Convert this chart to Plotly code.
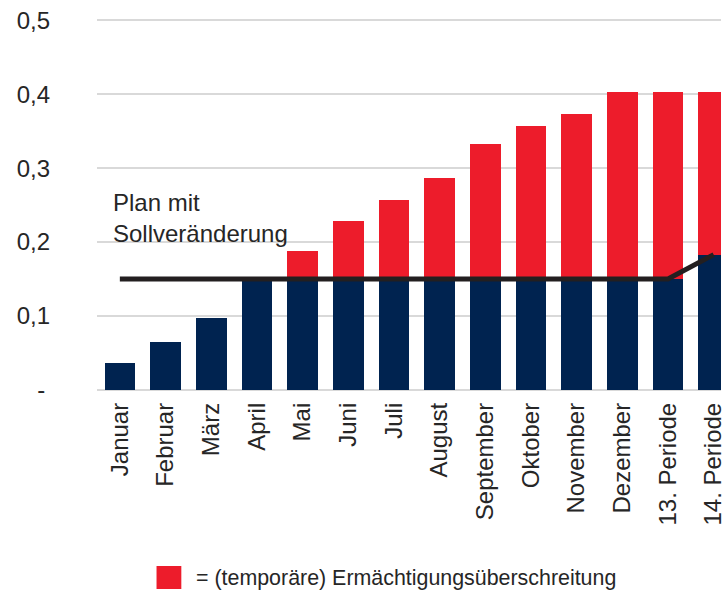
import plotly.graph_objects as go

categories = ["Januar", "Februar", "März", "April", "Mai", "Juni", "Juli", "August",
              "September", "Oktober", "November", "Dezember", "13. Periode", "14. Periode"]
actual = [0.036, 0.065, 0.097, 0.148, 0.188, 0.228, 0.257, 0.286,
          0.333, 0.357, 0.373, 0.403, 0.403, 0.403]
plan = [0.15, 0.15, 0.15, 0.15, 0.15, 0.15, 0.15, 0.15,
        0.15, 0.15, 0.15, 0.15, 0.15, 0.183]
y_tickvals = [0, 0.1, 0.2, 0.3, 0.4, 0.5]
y_ticktext = ["-\u2009", "0,1", "0,2", "0,3", "0,4", "0,5"]

base = [min(a, p) for a, p in zip(actual, plan)]
excess = [max(a - p, 0) for a, p in zip(actual, plan)]

NAVY = "#002350"
RED = "#ED1C2B"
FONT = "Liberation Sans, Arial, sans-serif"
TXT = "#262626"

# plot area in pixels: x 97..726, y 18..390
PL, PR, PT, PB = 97, 726, 18, 390


def px(x):
    return (x - PL) / (PR - PL)


def py(y):
    return (PB - y) / (PB - PT)


fig = go.Figure()
fig.add_trace(go.Bar(x=categories, y=base, marker=dict(color=NAVY, line=dict(width=0)),
                     showlegend=False, hoverinfo="skip"))
fig.add_trace(go.Bar(x=categories, y=excess, marker=dict(color=RED, line=dict(width=0)),
                     name="= (temporäre) Ermächtigungsüberschreitung", showlegend=False))
fig.add_trace(go.Scatter(x=categories, y=plan, mode="lines",
                         line=dict(color="#231F20", width=5),
                         showlegend=False, name="Plan mit Sollveränderung"))

fig.update_layout(
    width=726, height=591,
    margin=dict(l=PL, r=0, t=PT, b=591 - PB),
    barmode="stack", bargap=0.33,
    plot_bgcolor="white", paper_bgcolor="white",
    font=dict(family=FONT, size=24, color=TXT),
    xaxis=dict(type="category", range=[-0.5, 13.16], tickangle=-90,
               showgrid=False, zeroline=False, showline=False, ticks="",
               tickfont=dict(size=24, color=TXT), ticklabelstandoff=7),
    yaxis=dict(range=[0, 0.503], tickvals=y_tickvals, ticktext=y_ticktext,
               showgrid=True, gridcolor="#D9D9D9", gridwidth=2,
               zeroline=True, zerolinecolor="#D9D9D9", zerolinewidth=2,
               showline=False, ticks="",
               tickfont=dict(size=24, color=TXT), ticklabelstandoff=46),
    annotations=[
        dict(x=-0.19, y=0.232, xref="x", yref="y", xanchor="left", yanchor="middle",
             text="Plan mit<br>Sollveränderung", showarrow=False, align="left",
             font=dict(size=24, color=TXT, family=FONT)),
        dict(x=px(195), y=py(578), xref="paper", yref="paper",
             xanchor="left", yanchor="middle", showarrow=False,
             text="= (temporäre) Ermächtigungsüberschreitung",
             font=dict(size=21.4, color=TXT, family=FONT)),
    ],
    shapes=[
        dict(type="rect", xref="paper", yref="paper",
             x0=px(157), x1=px(182), y0=py(589), y1=py(566),
             fillcolor=RED, line=dict(width=0), layer="above"),
    ],
)

fig.write_html("out.html")
